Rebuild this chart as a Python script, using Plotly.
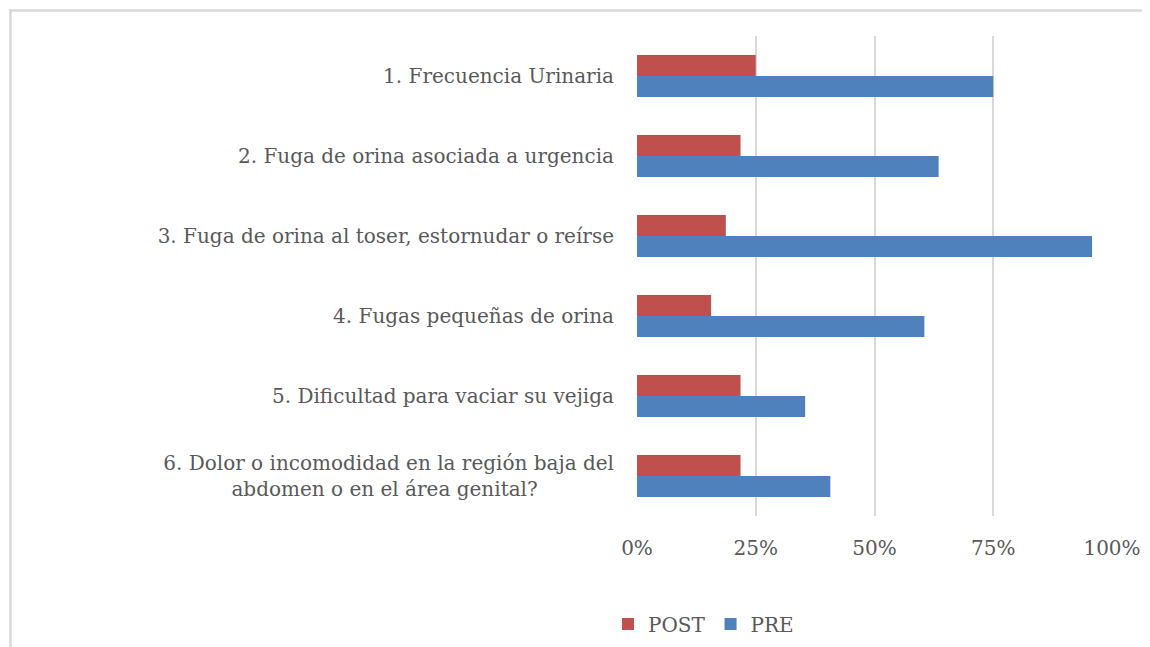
import plotly.graph_objects as go

categories = [
    "1. Frecuencia Urinaria",
    "2. Fuga de orina asociada a urgencia",
    "3. Fuga de orina al toser, estornudar o reírse",
    "4. Fugas pequeñas de orina",
    "5. Dificultad para vaciar su vejiga",
    "6. Dolor o incomodidad en la región baja del<br>abdomen o en el área genital?" + "\u00a0" * 12,
]
post_values = [0.25, 0.218, 0.187, 0.156, 0.218, 0.218]
pre_values = [0.75, 0.635, 0.958, 0.605, 0.354, 0.407]
tick_vals = [0, 0.25, 0.5, 0.75, 1.0]
tick_text = ["0%", "25%", "50%", "75%", "100%"]

FONT = "DejaVu Serif"
TXT = "#595959"
GRID = "#D9D9D9"

# page has an 8px body margin: figure coords = screen coords - 8
OFF = 8
W, H = 1150 - OFF, 647 - OFF
X0, X1 = 637 - OFF, 1112 - OFF
Y0, Y1 = 36 - OFF, 516 - OFF
pw, ph = X1 - X0, Y1 - Y0

def px_x(p):
    return (p - OFF - X0) / pw

def px_y(p):
    return (Y1 - (p - OFF)) / ph

fig = go.Figure()
fig.add_trace(go.Bar(y=categories, x=post_values, name="POST", orientation="h",
                     marker=dict(color="#C0504D", line=dict(width=0))))
fig.add_trace(go.Bar(y=categories, x=pre_values, name="PRE", orientation="h",
                     marker=dict(color="#4F81BD", line=dict(width=0))))

fig.update_layout(
    width=W, height=H,
    margin=dict(l=X0, r=W - X1, t=Y0, b=H - Y1, pad=0, autoexpand=False),
    paper_bgcolor="white", plot_bgcolor="white",
    barmode="group", bargap=0.475, bargroupgap=0,
    font=dict(family=FONT, color=TXT, size=20),
    showlegend=True,
    legend=dict(orientation="h", x=px_x(608), y=px_y(624), xanchor="left", yanchor="middle",
                font=dict(family=FONT, size=20, color=TXT), itemwidth=30,
                traceorder="normal", bgcolor="rgba(0,0,0,0)"),
    xaxis=dict(range=[0, 1], tickvals=tick_vals, ticktext=tick_text,
               showgrid=True, gridcolor=GRID, gridwidth=2,
               zeroline=False, showline=False, ticks="", ticklabelstandoff=18,
               tickfont=dict(family=FONT, size=20, color=TXT), fixedrange=True,
               automargin=False),
    yaxis=dict(autorange="reversed", showgrid=False, zeroline=False, showline=False,
               ticks="", ticklabelstandoff=22, automargin=False,
               tickfont=dict(family=FONT, size=20, color=TXT)),
    shapes=[
        dict(type="line", xref="paper", yref="paper", x0=px_x(9), x1=px_x(1160),
             y0=px_y(10.5), y1=px_y(10.5), line=dict(color=GRID, width=2.5)),
        dict(type="line", xref="paper", yref="paper", x0=px_x(10.5), x1=px_x(10.5),
             y0=px_y(9), y1=px_y(660), line=dict(color=GRID, width=2.5)),
    ],
)

fig.write_html("out.html")
